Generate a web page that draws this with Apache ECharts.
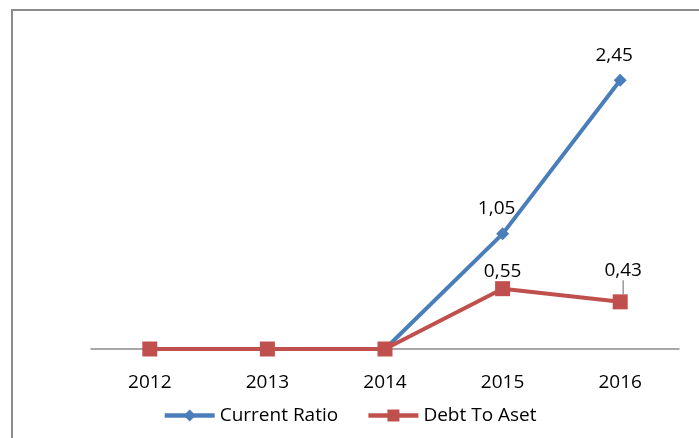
<!DOCTYPE html>
<html lang="en">
<head>
    <meta charset="UTF-8">
    <title>Current Ratio & Debt To Aset</title>
    <script src="https://cdn.jsdelivr.net/npm/echarts@6/dist/echarts.min.js"></script>
    <style>
        html, body { margin: 0; padding: 0; background: #fff; }
        #chart { width: 699px; height: 438px; }
    </style>
</head>
<body>
    <div id="chart"></div>
    <script>
        // data
        var years = ['2012', '2013', '2014', '2015', '2016'];
        var currentRatio = [0, 0, 0, 1.05, 2.45];
        var debtToAset = [0, 0, 0, 0.55, 0.43];

        var labelFont = '"Open Sans", "Noto Sans", sans-serif';

        function fmt(p) {
            if (!p.value) return '';
            return p.value.toFixed(2).replace('.', ',');
        }

        // last red point gets its label lifted with a leader line
        var debtData = debtToAset.map(function (v, i) {
            if (i === debtToAset.length - 1) {
                return { value: v, labelLine: { show: true } };
            }
            return v;
        });

        var chart = echarts.init(document.getElementById('chart'));
        chart.setOption({
            animation: false,
            textStyle: { fontFamily: labelFont },
            graphic: [{
                type: 'rect',
                shape: { x: 12, y: 10, width: 720, height: 460 },
                style: { fill: 'none', stroke: '#8c8c8c', lineWidth: 2 },
                silent: true
            }],
            grid: { left: 91, right: 20, top: 20, bottom: 89 },
            legend: {
                top: 401,
                left: 'center',
                itemWidth: 50,
                itemHeight: 15,
                itemGap: 28,
                lineStyle: { width: 4.5 },
                textStyle: { fontSize: 19, color: '#000', fontFamily: labelFont },
                data: ['Current Ratio', 'Debt To Aset']
            },
            xAxis: {
                type: 'category',
                data: years,
                axisLine: { lineStyle: { color: '#8c8c8c', width: 1.5 } },
                axisTick: { show: false },
                axisLabel: { color: '#000', fontSize: 19, margin: 24 }
            },
            yAxis: {
                type: 'value',
                min: 0,
                max: 3,
                show: false
            },
            series: [{
                name: 'Current Ratio',
                type: 'line',
                data: currentRatio,
                symbol: 'diamond',
                symbolSize: 13,
                lineStyle: { color: '#4a7ebb', width: 4 },
                itemStyle: { color: '#4a7ebb' },
                label: {
                    show: true,
                    position: 'top',
                    distance: 9,
                    offset: [-6, 0],
                    color: '#000',
                    fontSize: 19,
                    formatter: fmt
                }
            }, {
                name: 'Debt To Aset',
                type: 'line',
                data: debtData,
                symbol: 'rect',
                symbolSize: 15,
                lineStyle: { color: '#c0504d', width: 4 },
                itemStyle: { color: '#c0504d' },
                label: {
                    show: true,
                    position: 'top',
                    distance: 0,
                    color: '#000',
                    fontSize: 19,
                    formatter: fmt
                },
                labelLine: {
                    show: false,
                    lineStyle: { color: '#999', width: 1.5 }
                },
                labelLayout: function (p) {
                    if (p.dataIndex === 4) {
                        return { dy: -14, dx: 3 };
                    }
                    return {};
                }
            }]
        });
    </script>
</body>
</html>
